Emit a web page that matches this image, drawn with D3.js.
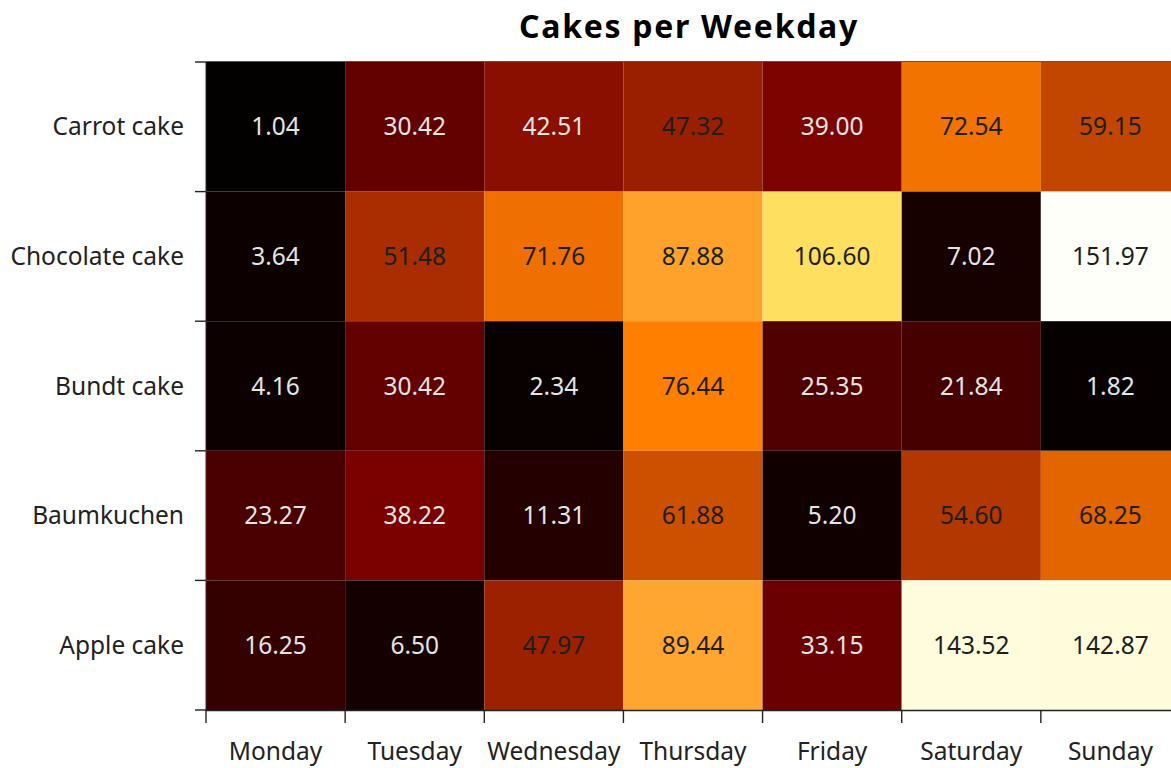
<!DOCTYPE html>
<html>
<head>
<meta charset="utf-8">
<script src="https://cdn.jsdelivr.net/npm/d3@7"></script>
<style>
  html, body { margin: 0; padding: 0; background: #fff; overflow: hidden; }
  svg { display: block; font-family: "Noto Sans", "Open Sans", sans-serif; }
</style>
</head>
<body>
<svg id="chart" width="1171" height="768"></svg>
<script>
// Cakes sold, by cake type (rows) and weekday (columns)
const weekdays = ["Monday", "Tuesday", "Wednesday", "Thursday", "Friday", "Saturday", "Sunday"];
const cakes = ["Carrot cake", "Chocolate cake", "Bundt cake", "Baumkuchen", "Apple cake"];

const carrotCake    = [1.04, 30.42, 42.51, 47.32, 39.00, 72.54, 59.15];
const chocolateCake = [3.64, 51.48, 71.76, 87.88, 106.60, 7.02, 151.97];
const bundtCake     = [4.16, 30.42, 2.34, 76.44, 25.35, 21.84, 1.82];
const baumkuchen    = [23.27, 38.22, 11.31, 61.88, 5.20, 54.60, 68.25];
const appleCake     = [16.25, 6.50, 47.97, 89.44, 33.15, 143.52, 142.87];

const rows = [carrotCake, chocolateCake, bundtCake, baumkuchen, appleCake];

// black-body style colour ramp
const colorStops = [0, 38, 76.44, 89, 107, 143, 152];
const colorRange = ["#000000", "#7a0000", "#ff8000", "#ffa530", "#ffe060", "#fffcdc", "#fffffa"];

const cells = [];
rows.forEach((vals, r) => vals.forEach((v, c) => cells.push({ cake: cakes[r], day: weekdays[c], value: v })));

const svg = d3.select("#chart");
const plotLeft = 206, plotTop = 62, plotRight = 1180, plotBottom = 710;

const x = d3.scaleBand().domain(weekdays).range([plotLeft, plotRight]);
const y = d3.scaleBand().domain(cakes).range([plotTop, plotBottom]);
const color = d3.scaleLinear().domain(colorStops).range(colorRange).interpolate(d3.interpolateRgb).clamp(true);

// title
svg.append("text")
  .attr("x", 689).attr("y", 38)
  .attr("text-anchor", "middle")
  .attr("font-size", 32).attr("font-weight", "bold").attr("fill", "#000")
  .attr("letter-spacing", 1.7)
  .text("Cakes per Weekday");

// cells
svg.append("g").selectAll("rect").data(cells).join("rect")
  .attr("x", d => x(d.day)).attr("y", d => y(d.cake))
  .attr("width", x.bandwidth()).attr("height", y.bandwidth())
  .attr("fill", d => color(d.value));

// value labels
svg.append("g").selectAll("text").data(cells).join("text")
  .attr("x", d => x(d.day) + x.bandwidth() / 2)
  .attr("y", d => y(d.cake) + y.bandwidth() / 2)
  .attr("dy", "0.35em")
  .attr("text-anchor", "middle")
  .attr("font-size", 24.5)
  .attr("fill", d => d3.lab(color(d.value)).l > 31 ? "#1e1e1e" : "#e4e4e4")
  .text(d => d.value.toFixed(2));

// frame lines
svg.append("line").attr("x1", plotLeft).attr("x2", plotRight).attr("y1", plotTop - 0.5).attr("y2", plotTop - 0.5)
  .attr("stroke", "#555").attr("stroke-width", 1.2);
svg.append("line").attr("x1", plotLeft - 0.5).attr("x2", plotLeft - 0.5).attr("y1", plotTop).attr("y2", plotBottom)
  .attr("stroke", "#9a9a9a").attr("stroke-width", 1.2);
svg.append("line").attr("x1", plotLeft).attr("x2", plotRight).attr("y1", plotBottom + 0.5).attr("y2", plotBottom + 0.5)
  .attr("stroke", "#222").attr("stroke-width", 1.4);

// y axis: ticks on row boundaries, labels centred in rows
const yBounds = cakes.map(c => y(c)).concat([plotBottom]);
svg.append("g").selectAll("line").data(yBounds).join("line")
  .attr("x1", plotLeft - 11).attr("x2", plotLeft).attr("y1", d => d).attr("y2", d => d)
  .attr("stroke", "#222").attr("stroke-width", 1.4);
svg.append("g").selectAll("text").data(cakes).join("text")
  .attr("x", 184).attr("y", d => y(d) + y.bandwidth() / 2)
  .attr("dy", "0.35em").attr("text-anchor", "end")
  .attr("font-size", 24.5).attr("fill", "#222")
  .text(d => d);

// x axis: ticks on column boundaries, labels centred in columns
const xBounds = weekdays.map(d => x(d)).concat([plotRight]);
svg.append("g").selectAll("line").data(xBounds).join("line")
  .attr("x1", d => d).attr("x2", d => d).attr("y1", plotBottom).attr("y2", plotBottom + 13)
  .attr("stroke", "#222").attr("stroke-width", 1.4);
svg.append("g").selectAll("text").data(weekdays).join("text")
  .attr("x", d => x(d) + x.bandwidth() / 2).attr("y", 751)
  .attr("dy", "0.35em").attr("text-anchor", "middle")
  .attr("font-size", 24.5).attr("fill", "#222")
  .text(d => d);
</script>
</body>
</html>
